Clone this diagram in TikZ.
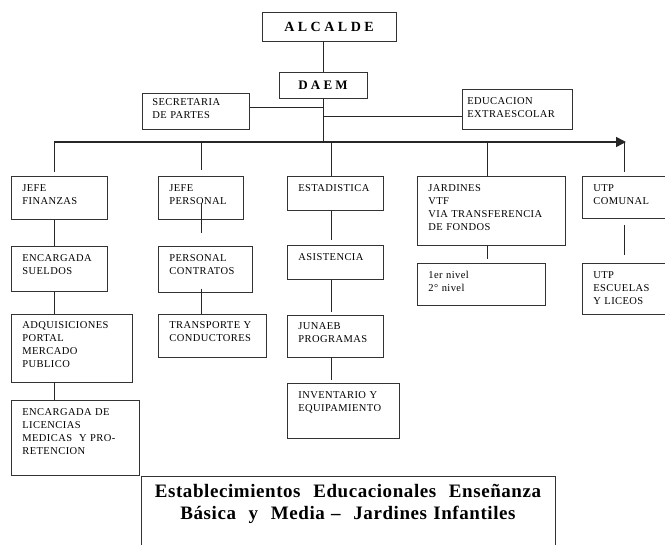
\documentclass[tikz,border=0pt]{standalone}
\usepackage{fontspec}
\setmainfont{Liberation Serif}
\newfontfamily\cajafont[LetterSpace=4]{Liberation Serif}
\newfontfamily\titfont[LetterSpace=3]{Liberation Serif}
\usetikzlibrary{positioning}
\usetikzlibrary{arrows.meta}
\hyphenpenalty=10000
\exhyphenpenalty=10000

\begin{document}
\begin{tikzpicture}[x=1pt, y=-1pt,
            caja/.style 2 args={draw=black!80, line width=0.8pt, font=\cajafont\fontsize{10.5}{13}\selectfont,
            align=left, anchor=north west, inner xsep=11pt, inner ysep=8pt, text height=7pt,
            text width=#1, text depth=#2},
            mando/.style={draw=black!80, line width=0.8pt, font=\bfseries\fontsize{14}{16}\selectfont, inner sep=0pt},
            linea/.style={draw=black!85, line width=0.8pt}]
            \useasboundingbox (0,0) rectangle (665,545);

            \node[mando, minimum width=134pt, minimum height=29pt] (alcalde) at (329,26.5) {A L C A L D E};
            \node[mando, minimum width=88pt, minimum height=26pt, font=\bfseries\fontsize{13}{15}\selectfont] (daem) at (323,85) {D A E M};
            \node[caja={87pt}{19pt}, inner xsep=10pt, inner ysep=5pt] (secret) at (142,93) {SECRETARIA\\DE~PARTES};
            \node[caja={100pt}{17pt}, inner xsep=5pt] (extra) at (462,89) {EDUCACION\\EXTRAESCOLAR};

            \node[caja={74pt}{20pt}] (jfin) at (11,176) {JEFE\\FINANZAS};
            \node[below=26pt of jfin.south west, caja={74pt}{22pt}] (sueldos) {ENCARGADA\\SUELDOS};
            \node[below=22pt of sueldos.south west, caja={99pt}{45pt}] (adq) {ADQUISICIONES\\PORTAL\\MERCADO\\PUBLICO};
            \node[below=18pt of adq.south west, caja={106pt}{52pt}] (lic) {ENCARGADA~DE\\LICENCIAS\\MEDICAS~~Y~PRO-\\RETENCION};

            \node[caja={63pt}{20pt}] (jpers) at (158,176) {JEFE\\PERSONAL};
            \node[below=26pt of jpers.south west, caja={72pt}{23pt}] (contratos) {PERSONAL\\CONTRATOS};
            \node[below=21pt of contratos.south west, caja={86pt}{20pt}] (transp) {TRANSPORTE~Y\\CONDUCTORES};

            \node[caja={74pt}{11pt}] (estad) at (287,176) {ESTADISTICA};
            \node[below=34pt of estad.south west, caja={74pt}{11pt}] (asist) {ASISTENCIA};
            \node[below=35pt of asist.south west, caja={74pt}{19pt}] (junaeb) {JUNAEB\\PROGRAMAS};
            \node[below=26pt of junaeb.south west, caja={90pt}{32pt}] (invent) {INVENTARIO~Y\\EQUIPAMIENTO};

            \node[caja={126pt}{46pt}] (jardines) at (417,176) {JARDINES\\VTF\\VIA~TRANSFERENCIA\\DE~FONDOS};
            \node[below=17pt of jardines.south west, caja={106pt}{19pt}] (nivel) {1er~nivel\\2°~nivel};

            \node[caja={64pt}{19pt}] (utpcom) at (582,176) {UTP\\COMUNAL};
            \node[below=44pt of utpcom.south west, caja={64pt}{28pt}] (utpesc) {UTP\\ESCUELAS\\Y~LICEOS};

            \node[draw=black!80, line width=0.8pt, anchor=north, align=center, font=\titfont\bfseries\fontsize{19}{21.5}\selectfont,
                text width=398pt, inner xsep=8pt, inner ysep=9pt, text height=12.5pt, text depth=80pt] (titulo) at (348,476)
                {Establecimientos\ \ Educacionales\ \ Enseñanza\\Básica\ \ y\ \ Media~–\ \ Jardines Infantiles};

            \coordinate (c1) at (54,142);
            \coordinate (c2) at (201,142);
            \coordinate (c3) at (331,142);
            \coordinate (c4) at (487,142);
            \coordinate (c5) at (624,142);
            \coordinate (busfin) at (626,142);

            \draw[linea] (daem.north) -- (daem.north |- alcalde.south);
            \draw[linea] (daem.south) -- (daem.south |- c1);
            \draw[linea] ([yshift=4pt]secret.east) -- ([yshift=4pt]secret.east -| daem.south);
            \draw[linea] ([yshift=-7pt]extra.west) -- ([yshift=-7pt]extra.west -| daem.south);
            \draw[linea, line width=1.6pt, -{Triangle[length=10pt,width=10pt]}] (c1) -- (busfin);

            \draw[linea, shorten >=4pt] (c1) -- (c1 |- jfin.north);
            \draw[linea, shorten >=6pt] (c2) -- (c2 |- jpers.north);
            \draw[linea] (c3) -- (c3 |- estad.north);
            \draw[linea] (c4) -- (c4 |- jardines.north);
            \draw[linea, shorten >=4pt] (c5) -- (c5 |- utpcom.north);

            \draw[linea] (c1 |- jfin.south) -- (c1 |- sueldos.north);
            \draw[linea] (c1 |- sueldos.south) -- (c1 |- adq.north);
            \draw[linea] (c1 |- adq.south) -- (c1 |- lic.north);
            \draw[linea, shorten <=-17pt, shorten >=13pt] (c2 |- jpers.south) -- (c2 |- contratos.north);
            \draw[linea, shorten <=-4pt] (c2 |- contratos.south) -- (c2 |- transp.north);
            \draw[linea, shorten >=5pt] (c3 |- estad.south) -- (c3 |- asist.north);
            \draw[linea, shorten >=3pt] (c3 |- asist.south) -- (c3 |- junaeb.north);
            \draw[linea, shorten >=3pt] (c3 |- junaeb.south) -- (c3 |- invent.north);
            \draw[linea, shorten >=4pt] (c4 |- jardines.south) -- (c4 |- nivel.north);
            \draw[linea, shorten <=6pt, shorten >=8pt] (c5 |- utpcom.south) -- (c5 |- utpesc.north);
        \end{tikzpicture}
\end{document}
